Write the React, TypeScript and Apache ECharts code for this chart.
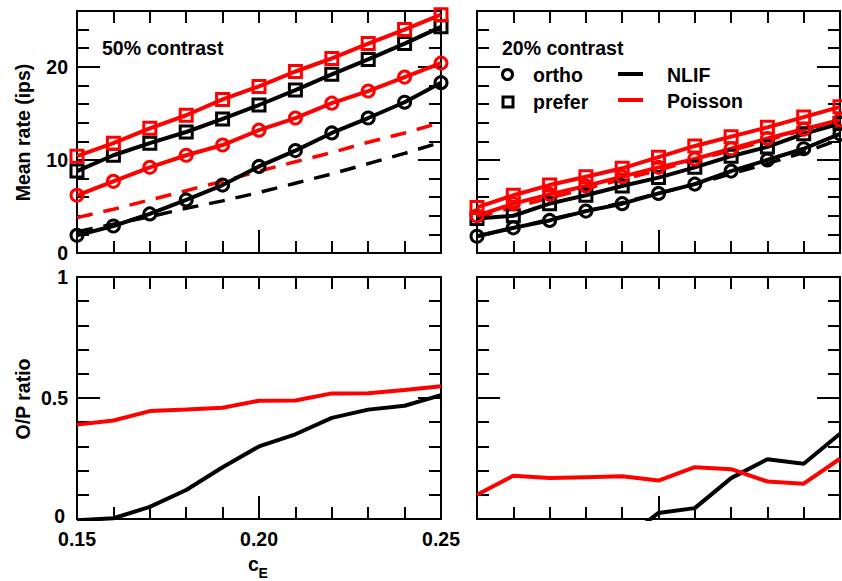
import React, { useEffect, useRef } from "react";
import * as echarts from "echarts";

// c_E values (x axis)
const cE = [0.15, 0.16, 0.17, 0.18, 0.19, 0.2, 0.21, 0.22, 0.23, 0.24, 0.25];
const xTickLabels = ["0.15", "0.20", "0.25"];

// 50% contrast — mean rate (ips)
const orthoNLIF50 = [1.9, 2.9, 4.2, 5.7, 7.3, 9.3, 11.0, 12.9, 14.5, 16.2, 18.3];
const preferNLIF50 = [8.8, 10.5, 11.8, 13.0, 14.4, 15.9, 17.5, 19.2, 20.8, 22.5, 24.3];
const orthoPoisson50 = [6.2, 7.7, 9.2, 10.5, 11.6, 13.2, 14.5, 16.1, 17.4, 18.9, 20.4];
const preferPoisson50 = [10.4, 11.8, 13.4, 14.8, 16.5, 17.9, 19.5, 20.9, 22.5, 24.0, 25.6];
const dashNLIF50 = [2.3, 3.1, 3.9, 4.8, 5.6, 6.5, 7.5, 8.5, 9.6, 10.7, 11.9];
const dashPoisson50 = [3.8, 4.7, 5.7, 6.7, 7.7, 8.8, 9.8, 10.8, 11.9, 12.9, 14.0];

// 20% contrast — mean rate (ips)
const orthoNLIF20 = [1.8, 2.7, 3.5, 4.5, 5.3, 6.4, 7.4, 8.8, 10.0, 11.2, 12.8];
const preferNLIF20 = [3.7, 4.0, 5.3, 6.2, 7.2, 8.1, 9.2, 10.4, 11.4, 12.8, 13.9];
const orthoPoisson20 = [4.0, 5.3, 6.3, 7.2, 8.2, 9.2, 10.1, 11.2, 12.3, 13.3, 14.3];
const preferPoisson20 = [4.9, 6.2, 7.3, 8.2, 9.1, 10.3, 11.5, 12.5, 13.5, 14.6, 15.7];
const dashNLIF20 = [1.8, 2.7, 3.6, 4.5, 5.4, 6.4, 7.4, 8.5, 9.6, 10.8, 12.2];
const dashPoisson20 = [3.9, 4.9, 5.9, 6.9, 7.9, 8.9, 10.0, 11.0, 12.1, 13.2, 14.3];

// O/P ratio
const ratioNLIF50 = [-0.005, 0.003, 0.05, 0.12, 0.214, 0.3, 0.35, 0.418, 0.452, 0.468, 0.512];
const ratioPoisson50 = [0.39, 0.407, 0.446, 0.452, 0.46, 0.489, 0.49, 0.519, 0.52, 0.533, 0.549];
const ratioNLIF20 = [null, null, null, null, -0.09, 0.025, 0.045, 0.169, 0.247, 0.228, 0.352];
const ratioPoisson20 = [0.1, 0.179, 0.169, 0.173, 0.177, 0.159, 0.214, 0.206, 0.155, 0.146, 0.249];

const FONT = '"Liberation Sans", Arial, Helvetica, sans-serif';
const BLACK = "#000000";
const RED = "#ff0000";
const FS = 19.5;

const grids = [
  { left: 77, top: 11, width: 364, height: 242 },
  { left: 477, top: 11, width: 363, height: 242 },
  { left: 77, top: 277, width: 364, height: 242 },
  { left: 477, top: 277, width: 363, height: 242 },
];

const pairs = (ys: (number | null)[]) => cE.map((x, i) => [x, ys[i]]);

function buildOption() {
  const xAxis: any[] = [];
  const yAxis: any[] = [];
  grids.forEach((_, g) => {
    const showX = g === 2;
    const showY = g === 0 || g === 2;
    const top = g < 2;
    const ymax = top ? 26 : 1;
    const major = top ? 10 : 0.5;
    const minor = top ? 2 : 0.1;
    const base = {
      gridIndex: g,
      type: "value",
      min: 0.15,
      max: 0.25,
      interval: 0.05,
      splitLine: { show: false },
      minorSplitLine: { show: false },
      axisLine: { show: true, onZero: false, lineStyle: { color: BLACK, width: 2 } },
    };
    xAxis.push({
      ...base,
      position: "bottom",
      axisTick: { show: true, inside: true, length: 23, lineStyle: { color: BLACK, width: 2 } },
      minorTick: { show: true, splitNumber: 5, length: 12, lineStyle: { color: BLACK, width: 2 } },
      axisLabel: {
        show: showX,
        margin: 12,
        lineHeight: 15,
        color: BLACK,
        fontSize: FS,
        fontWeight: "bold",
        fontFamily: FONT,
        formatter: (v: number) => {
          const s = v.toFixed(2);
          return xTickLabels.includes(s) ? s : "";
        },
      },
    });
    xAxis.push({
      ...base,
      position: "top",
      axisTick: { show: true, inside: true, length: 12, lineStyle: { color: BLACK, width: 2 } },
      minorTick: { show: true, splitNumber: 5, length: 12, lineStyle: { color: BLACK, width: 2 } },
      axisLabel: { show: false },
    });
    const yb = (position: string, interval: number, len: number, line: boolean, labels: boolean) => ({
      gridIndex: g,
      type: "value",
      position,
      min: 0,
      max: ymax,
      interval,
      splitLine: { show: false },
      axisLine: { show: line, onZero: false, lineStyle: { color: BLACK, width: 2 } },
      axisTick: { show: true, inside: true, length: len, lineStyle: { color: BLACK, width: 2 } },
      axisLabel: {
        show: labels,
        margin: 9,
        lineHeight: 15,
        color: BLACK,
        fontSize: FS,
        fontWeight: "bold",
        fontFamily: FONT,
        showMaxLabel: !top,
        showMinLabel: top,
        formatter: (v: number) => {
          if (top) return v % 10 === 0 ? String(v) : "";
          return v === 0 ? "" : String(v);
        },
      },
    });
    yAxis.push(yb("left", major, 23, true, showY));
    yAxis.push(yb("left", minor, 12, false, false));
    yAxis.push(yb("right", major, 23, true, false));
    yAxis.push(yb("right", minor, 12, false, false));
  });

  const series: any[] = [];
  const dashed = (g: number, data: number[], color: string) => ({
    type: "line",
    xAxisIndex: 2 * g,
    yAxisIndex: 4 * g,
    data: pairs(data),
    showSymbol: false,
    symbol: "none",
    silent: true,
    clip: true,
    lineStyle: { color, width: 3.5, type: [16, 11] },
  });
  const marked = (g: number, data: number[], color: string, symbol: string) => ({
    type: "line",
    xAxisIndex: 2 * g,
    yAxisIndex: 4 * g,
    data: pairs(data),
    symbol,
    symbolSize: 12,
    showSymbol: true,
    silent: true,
    clip: true,
    lineStyle: { color, width: 4 },
    itemStyle: { color: "rgba(0,0,0,0)", borderColor: color, borderWidth: 3 },
  });
  const plain = (g: number, data: (number | null)[], color: string) => ({
    type: "line",
    xAxisIndex: 2 * g,
    yAxisIndex: 4 * g,
    data: pairs(data),
    showSymbol: false,
    symbol: "none",
    silent: true,
    clip: true,
    lineStyle: { color, width: 4 },
  });

  series.push(dashed(0, dashNLIF50, BLACK));
  series.push(dashed(0, dashPoisson50, RED));
  series.push(marked(0, orthoNLIF50, BLACK, "circle"));
  series.push(marked(0, preferNLIF50, BLACK, "rect"));
  series.push(marked(0, orthoPoisson50, RED, "circle"));
  series.push(marked(0, preferPoisson50, RED, "rect"));

  series.push(dashed(1, dashNLIF20, BLACK));
  series.push(dashed(1, dashPoisson20, RED));
  series.push(marked(1, orthoNLIF20, BLACK, "circle"));
  series.push(marked(1, preferNLIF20, BLACK, "rect"));
  series.push(marked(1, orthoPoisson20, RED, "circle"));
  series.push(marked(1, preferPoisson20, RED, "rect"));

  series.push(plain(2, ratioNLIF50, BLACK));
  series.push(plain(2, ratioPoisson50, RED));
  series.push(plain(3, ratioNLIF20, BLACK));
  series.push(plain(3, ratioPoisson20, RED));

  const txt = (text: string, x: number, y: number, size = FS, extra: any = {}) => ({
    type: "text",
    x,
    y,
    silent: true,
    z: 100,
    ...extra,
    style: {
      text,
      fill: BLACK,
      font: `bold ${size}px ${FONT}`,
      align: extra.align || "left",
      textAlign: extra.align || "left",
      verticalAlign: "middle",
      textVerticalAlign: "middle",
      lineHeight: 15,
    },
  });

  const graphic: any[] = [
    txt("50% contrast", 102, 47.5),
    txt("20% contrast", 502, 48),
    {
      type: "circle",
      z: 100,
      silent: true,
      shape: { cx: 507.5, cy: 74.5, r: 5 },
      style: { fill: "none", stroke: BLACK, lineWidth: 3 },
    },
    txt("ortho", 533, 74.5),
    {
      type: "rect",
      z: 100,
      silent: true,
      shape: { x: 503, y: 97, width: 10, height: 10 },
      style: { fill: "none", stroke: BLACK, lineWidth: 3 },
    },
    txt("prefer", 533, 101.5),
    {
      type: "line",
      z: 100,
      silent: true,
      shape: { x1: 618, y1: 74, x2: 643, y2: 74 },
      style: { stroke: BLACK, lineWidth: 4 },
    },
    txt("NLIF", 667, 74.5),
    {
      type: "line",
      z: 100,
      silent: true,
      shape: { x1: 618, y1: 100, x2: 643, y2: 100 },
      style: { stroke: RED, lineWidth: 4 },
    },
    txt("Poisson", 667, 101),
    txt("Mean rate (ips)", 23, 132.5, FS, { rotation: Math.PI / 2, align: "center" }),
    txt("O/P ratio", 23, 399, FS, { rotation: Math.PI / 2, align: "center" }),
    txt("0", 65, 516, FS, { align: "right" }),
    txt("c", 248, 563.5, FS),
    txt("E", 258.5, 573, 14),
  ];

  return {
    animation: false,
    backgroundColor: "#ffffff",
    grid: grids.map((g) => ({ ...g, containLabel: false, outerBoundsMode: "none" })),
    xAxis,
    yAxis,
    series,
    graphic,
  };
}

export default function App() {
  const ref = useRef<HTMLDivElement>(null);
  useEffect(() => {
    if (!ref.current) return;
    const chart = echarts.init(ref.current, null, { renderer: "svg", width: 842, height: 581 });
    chart.setOption(buildOption() as any);
    return () => chart.dispose();
  }, []);
  return (
    <div
      ref={ref}
      style={{ position: "absolute", left: 0, top: 0, width: 842, height: 581, background: "#fff" }}
    />
  );
}
